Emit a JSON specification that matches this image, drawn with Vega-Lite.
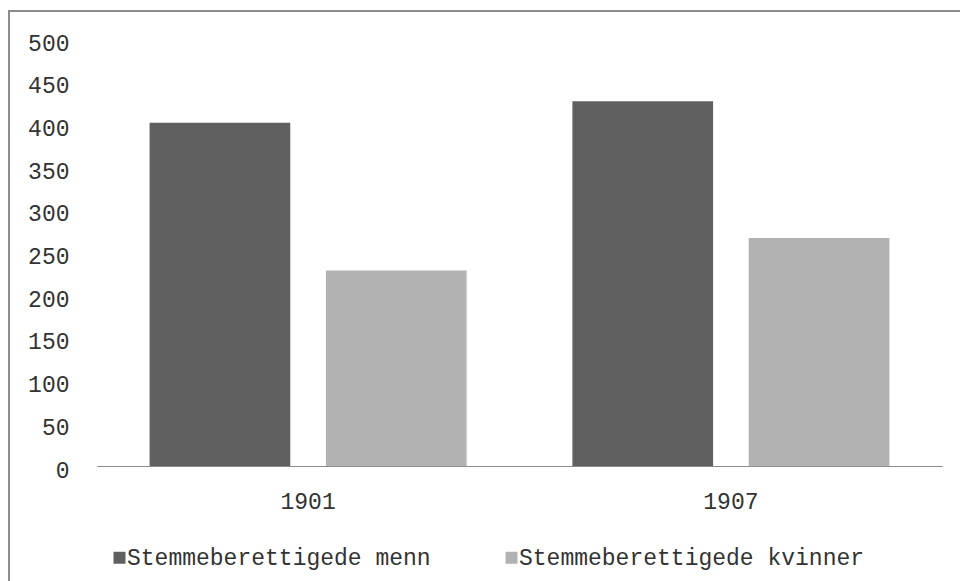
{
  "$schema": "https://vega.github.io/schema/vega-lite/v6.json",
  "width": 953,
  "height": 573,
  "autosize": "none",
  "padding": {"left": 9, "top": 11, "right": 0, "bottom": 0},
  "background": "white",
  "config": {
    "view": {"stroke": "#8c8c8c", "strokeWidth": 2},
    "font": "Liberation Mono"
  },
  "data": {
    "values": [
      {"year": "1901", "group": "Stemmeberettigede menn", "value": 402},
      {"year": "1901", "group": "Stemmeberettigede kvinner", "value": 229},
      {"year": "1907", "group": "Stemmeberettigede menn", "value": 427},
      {"year": "1907", "group": "Stemmeberettigede kvinner", "value": 267}
    ]
  },
  "mark": {"type": "bar"},
  "encoding": {
    "x": {
      "field": "year",
      "type": "nominal",
      "scale": {"range": [87.7, 933.3], "paddingInner": 0, "paddingOuter": 0},
      "axis": {
        "title": null,
        "orient": "bottom",
        "offset": -118,
        "labelAngle": 0,
        "ticks": false,
        "domainColor": "#8c8c8c",
        "domainWidth": 1,
        "labelFont": "Liberation Mono",
        "labelFontSize": 23,
        "labelColor": "#333333",
        "labelBaseline": "middle",
        "labelPadding": 35
      }
    },
    "xOffset": {
      "field": "group",
      "type": "nominal",
      "sort": ["Stemmeberettigede menn", "Stemmeberettigede kvinner"],
      "scale": {"paddingInner": 0.202, "paddingOuter": 0.3}
    },
    "y": {
      "field": "value",
      "type": "quantitative",
      "scale": {"domain": [0, 500], "range": [455, 28], "nice": false},
      "axis": {
        "title": null,
        "orient": "left",
        "offset": -64,
        "values": [0, 50, 100, 150, 200, 250, 300, 350, 400, 450, 500],
        "ticks": false,
        "domain": false,
        "grid": false,
        "labelPadding": 4,
        "labelFont": "Liberation Mono",
        "labelFontSize": 23,
        "labelColor": "#333333",
        "labelBaseline": "middle",
        "labelOffset": 4
      }
    },
    "color": {
      "field": "group",
      "type": "nominal",
      "sort": ["Stemmeberettigede menn", "Stemmeberettigede kvinner"],
      "scale": {
        "domain": ["Stemmeberettigede menn", "Stemmeberettigede kvinner"],
        "range": ["#606060", "#b2b2b2"]
      },
      "legend": {
        "title": null,
        "orient": "none",
        "legendX": 99,
        "legendY": 535,
        "padding": 0,
        "direction": "horizontal",
        "symbolType": "square",
        "symbolSize": 144,
        "symbolStrokeWidth": 0,
        "symbolOpacity": 1,
        "labelFont": "Liberation Mono",
        "labelFontSize": 23,
        "labelColor": "#333333",
        "labelOffset": -4,
        "labelLimit": 0,
        "columnPadding": 69
      }
    }
  }
}
